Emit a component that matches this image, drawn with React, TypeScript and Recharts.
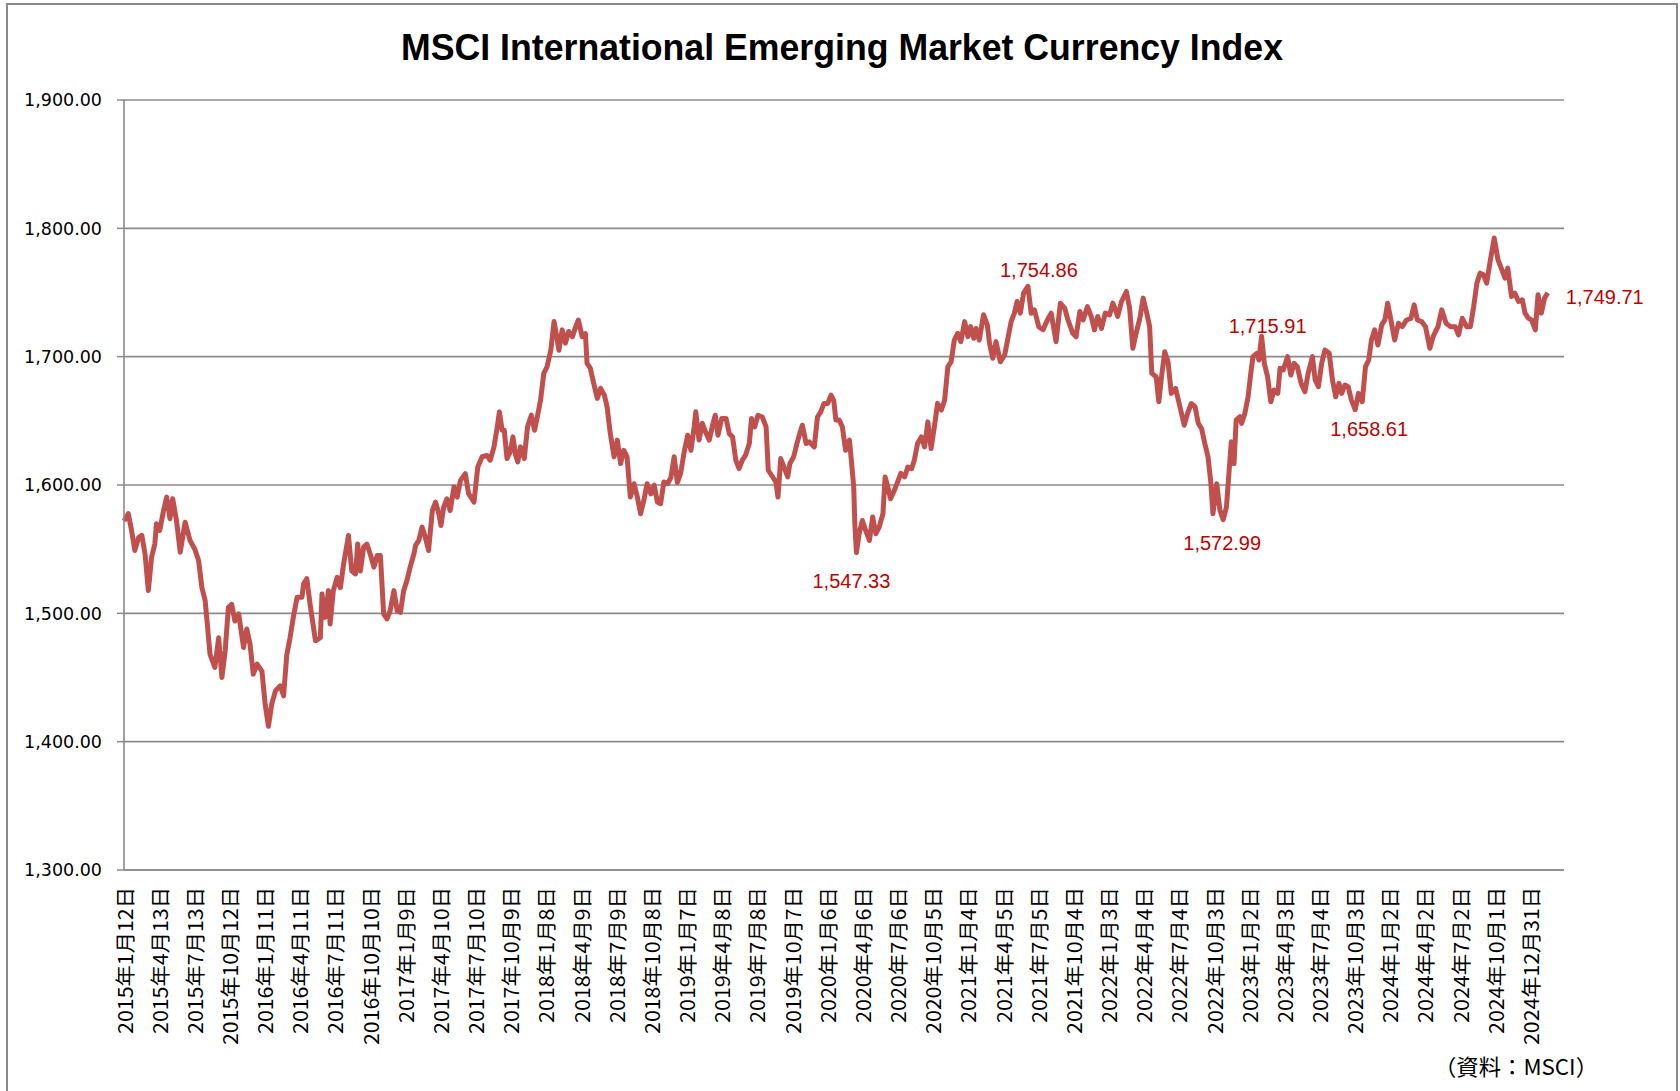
import React from "react";
import { LineChart, Line, XAxis, YAxis, CartesianGrid, ReferenceDot } from "recharts";

// quarter labels on the category axis (every 65 trading days)
const tickLabels = [
  "2015年1月12日", "2015年4月13日", "2015年7月13日", "2015年10月12日",
  "2016年1月11日", "2016年4月11日", "2016年7月11日", "2016年10月10日",
  "2017年1月9日", "2017年4月10日", "2017年7月10日", "2017年10月9日",
  "2018年1月8日", "2018年4月9日", "2018年7月9日", "2018年10月8日",
  "2019年1月7日", "2019年4月8日", "2019年7月8日", "2019年10月7日",
  "2020年1月6日", "2020年4月6日", "2020年7月6日", "2020年10月5日",
  "2021年1月4日", "2021年4月5日", "2021年7月5日", "2021年10月4日",
  "2022年1月3日", "2022年4月4日", "2022年7月4日", "2022年10月3日",
  "2023年1月2日", "2023年4月3日", "2023年7月4日", "2023年10月3日",
  "2024年1月2日", "2024年4月2日", "2024年7月2日", "2024年10月1日",
  "2024年12月31日",
];

// trading-day position of each sampled point (0 = 2015/1/12)
const dayIndex = [
  0, 8, 14, 20, 27, 33, 39, 45, 51, 57, 60, 66, 73, 79, 85, 90, 97, 104, 113, 122,
  131, 138, 144, 150, 154, 159, 168, 175, 181, 187, 193, 199, 205, 212, 221, 227, 233, 239, 246, 255,
  261, 267, 273, 280, 289, 295, 301, 307, 313, 320, 329, 332, 338, 344, 354, 363, 366, 372, 378, 381,
  387, 394, 400, 406, 415, 421, 428, 432, 437, 443, 449, 455, 462, 468, 474, 480, 486, 492, 499, 505,
  511, 517, 523, 529, 536, 539, 545, 551, 557, 563, 570, 576, 582, 586, 591, 597, 603, 610, 616, 622,
  631, 637, 647, 654, 662, 671, 677, 684, 690, 694, 699, 703, 708, 714, 719, 724, 728, 733, 740, 746,
  753, 759, 764, 770, 776, 782, 789, 795, 800, 804, 810, 816, 822, 829, 835, 840, 847, 853, 856, 862,
  869, 875, 881, 888, 893, 899, 906, 912, 918, 924, 930, 936, 943, 949, 955, 961, 967, 974, 980, 986,
  992, 998, 1005, 1011, 1017, 1023, 1029, 1035, 1042, 1048, 1054, 1057, 1063, 1069, 1075, 1082, 1088, 1093, 1098, 1105,
  1113, 1119, 1125, 1131, 1137, 1143, 1149, 1156, 1160, 1166, 1172, 1180, 1187, 1191, 1197, 1205, 1209, 1214, 1220, 1227,
  1231, 1238, 1244, 1250, 1254, 1261, 1267, 1276, 1282, 1288, 1294, 1301, 1307, 1312, 1316, 1322, 1328, 1334, 1341, 1344,
  1349, 1351, 1354, 1359, 1365, 1371, 1378, 1384, 1390, 1396, 1403, 1407, 1412, 1417, 1424, 1430, 1436, 1443, 1449, 1456,
  1461, 1467, 1474, 1480, 1486, 1492, 1498, 1504, 1511, 1517, 1523, 1529, 1535, 1541, 1547, 1554, 1560, 1565, 1571, 1575,
  1581, 1589, 1596, 1600, 1606, 1612, 1620, 1628, 1634, 1640, 1646, 1651, 1657, 1663, 1671, 1677, 1683, 1691, 1699, 1707,
  1714, 1723, 1731, 1739, 1745, 1754, 1760, 1767, 1773, 1781, 1788, 1794, 1800, 1807, 1814, 1822, 1828, 1834, 1837, 1844,
  1853, 1859, 1865, 1871, 1878, 1884, 1890, 1896, 1900, 1908, 1913, 1918, 1924, 1930, 1936, 1944, 1952, 1960, 1966, 1973,
  1980, 1986, 1992, 1998, 2004, 2009, 2013, 2020, 2026, 2032, 2038, 2043, 2047, 2052, 2056, 2063, 2066, 2072, 2078, 2083,
  2087, 2094, 2098, 2103, 2108, 2114, 2120, 2126, 2133, 2137, 2143, 2151, 2157, 2163, 2169, 2176, 2183, 2189, 2197, 2202,
  2208, 2214, 2220, 2228, 2234, 2240, 2246, 2251, 2257, 2263, 2269, 2276, 2282, 2289, 2295, 2301, 2306, 2312, 2318, 2325,
  2331, 2336, 2342, 2349, 2356, 2363, 2371, 2379, 2385, 2391, 2399, 2406, 2414, 2420, 2429, 2436, 2444, 2452, 2461, 2467,
  2474, 2482, 2489, 2495, 2501, 2507, 2513, 2519, 2526, 2533, 2540, 2546, 2553, 2558, 2565, 2571, 2578, 2585, 2590, 2596,
  2602, 2609, 2614, 2620, 2626, 2632,
];

const indexValue = [
  1572, 1577.6, 1564.6, 1549, 1559, 1560.7, 1546, 1517.7, 1543.7, 1554, 1569.8, 1564.6, 1580, 1590.6, 1573.7, 1589.3, 1572.4, 1547.7, 1571, 1556.8,
  1550, 1541, 1520, 1510, 1491.7, 1468, 1457.8, 1481, 1450, 1470.8, 1504.7, 1507, 1494, 1499.5, 1473.4, 1487.8, 1476, 1452.6, 1460.4, 1455,
  1429, 1412, 1429, 1439.6, 1443.5, 1435.7, 1468, 1481, 1496.9, 1512.5, 1512.5, 1523, 1527, 1507, 1478.6, 1481, 1515, 1497, 1517.7, 1491.7,
  1517.7, 1528, 1520, 1538.5, 1560.7, 1533, 1530.7, 1554, 1533, 1551.6, 1554, 1546.4, 1536, 1545, 1545, 1499.5, 1495.6, 1502, 1517.7, 1502,
  1500.8, 1517.7, 1525.5, 1536, 1546.4, 1552.9, 1556.8, 1567.2, 1559.4, 1549, 1580, 1586.7, 1577.6, 1568.5, 1582.8, 1589.3, 1580, 1598.4, 1590.6, 1603.6,
  1608.8, 1593.2, 1586.7, 1614, 1622, 1623, 1619.3, 1629.7, 1645.3, 1657, 1642.7, 1642.7, 1620.6, 1625.8, 1637.5, 1623.2, 1618, 1629.7, 1620.6, 1645.3,
  1654.4, 1642.7, 1653, 1666, 1687, 1692, 1705, 1727.4, 1715.6, 1705, 1720.9, 1710.5, 1719.6, 1715.6, 1723.4, 1728.6, 1715.6, 1718, 1694.8, 1691,
  1678, 1667.5, 1675.4, 1670, 1661, 1640, 1621.9, 1635, 1616.7, 1627, 1621.9, 1590.6, 1601, 1590.6, 1577.6, 1588, 1601, 1593, 1600, 1586.7,
  1585.4, 1602.3, 1601, 1606, 1622, 1602, 1609, 1624.5, 1638.8, 1627, 1645.3, 1657, 1635, 1648, 1641.4, 1635, 1646.6, 1654.4, 1638.8, 1651.8,
  1651.8, 1640, 1637.5, 1619.3, 1612.8, 1619.3, 1623.2, 1632.3, 1651.8, 1645.3, 1654.4, 1653, 1645.3, 1611.5, 1607.6, 1602.4, 1590.6, 1620.6, 1614, 1606.3,
  1616.7, 1622, 1632.3, 1641.4, 1646.6, 1632.3, 1633.6, 1629.7, 1653, 1657, 1663.6, 1663.6, 1670, 1666, 1650.6, 1650.6, 1645.3, 1627, 1635, 1622,
  1598.4, 1569.8, 1547.33, 1562, 1572.4, 1564.6, 1556.8, 1575, 1562, 1567.2, 1577.6, 1606.3, 1598.4, 1589.3, 1595.8, 1602.3, 1609, 1606.3, 1614, 1612.8,
  1619.3, 1632.3, 1637.5, 1629.7, 1649.2, 1628.4, 1645.3, 1663.6, 1658.4, 1666, 1692.2, 1696, 1713, 1718.2, 1711.7, 1727.3, 1715.6, 1723.4, 1714.3, 1722,
  1713, 1732.6, 1724.7, 1710.4, 1698.7, 1711.7, 1696, 1701.3, 1714.3, 1727.3, 1733.9, 1743, 1733.9, 1749.5, 1754.86, 1733.9, 1736.5, 1723.4, 1720.9, 1728.6,
  1733.9, 1711.7, 1741.7, 1737.8, 1728.6, 1718.2, 1715.6, 1735.2, 1728.6, 1739, 1731.3, 1720.9, 1731.3, 1722, 1733.9, 1732.6, 1741.7, 1735.2, 1731.3, 1743,
  1750.8, 1737.8, 1706.5, 1718.2, 1730, 1745.6, 1735.2, 1723.4, 1687, 1684.4, 1664.9, 1684.4, 1703.9, 1696, 1671.4, 1675.3, 1661, 1646.6, 1655.7, 1663.5,
  1661, 1648, 1644, 1632.3, 1621.9, 1602.4, 1577.6, 1601, 1580.2, 1572.99, 1582.8, 1611.5, 1633.6, 1616.7, 1650.6, 1653.2, 1648, 1655.7, 1668.8, 1687,
  1700, 1702.6, 1697.4, 1715.91, 1694.8, 1684.4, 1664.9, 1674, 1671.4, 1690.9, 1689.6, 1700, 1685.7, 1694.8, 1692.2, 1679.2, 1672.7, 1687, 1700, 1681.8,
  1676.6, 1694.8, 1705.2, 1702.6, 1681.8, 1668.8, 1679.2, 1671.4, 1677.9, 1676.6, 1666.2, 1658.61, 1671.4, 1664.9, 1692.2, 1697.4, 1713, 1720.9, 1709.1, 1724.7,
  1728.6, 1741.7, 1728.6, 1713, 1726, 1723.4, 1728.6, 1729.9, 1740.4, 1728.6, 1727.3, 1723.4, 1706.5, 1715.6, 1723.4, 1736.5, 1726, 1723.4, 1723.4, 1717,
  1729.9, 1723.4, 1723.4, 1739, 1757.3, 1765.1, 1763.8, 1757.3, 1775.5, 1792.4, 1775.5, 1769, 1761.2, 1769, 1746.9, 1749.5, 1743, 1744.3, 1733.9, 1730,
  1728.6, 1720.8, 1748.2, 1733.9, 1745.6, 1749.71,
];

// labelled points
const calloutIdx = [1671, 1354, 2032, 2103, 2276, 2632];
const calloutValue = [1754.86, 1547.33, 1572.99, 1715.91, 1658.61, 1749.71];

const yTicks = [1300, 1400, 1500, 1600, 1700, 1800, 1900];

const LABEL_STEP = 65;
const MINOR_STEP = 22;
const LAST_DAY = 2662;

const data = dayIndex.map((d, i) => ({ day: d, value: indexValue[i] }));
const labelTicks = tickLabels.map((_, i) => i * LABEL_STEP);
const minorTicks = Array.from({ length: LAST_DAY / MINOR_STEP + 1 }, (_, i) => i * MINOR_STEP);

const AXIS = "#8a8a8a";
const RED_TEXT = "#c00000";
// label centre offset from its point, px
const calloutOffset = [[11, -16], [-5, 28], [-1, 23], [6, -10], [14, 19], [57, 4]];

const fmt = (v: number) => v.toLocaleString("en-US", { minimumFractionDigits: 2, maximumFractionDigits: 2 });

function DateTick({ x, y, payload }: any) {
  const label = tickLabels[Math.round(payload.value / LABEL_STEP)] ?? "";
  const digits = label.replace(/[^0-9]/g, "").length;
  const len = digits * 11 + (label.length - digits) * 23.3;
  const top = y + 17;
  return (
    <text
      x={x}
      y={top}
      transform={`rotate(-90 ${x} ${top})`}
      textAnchor="end"
      dominantBaseline="central"
      fontFamily="'Noto Sans CJK JP', sans-serif"
      fontSize={20}
      fill="#000"
      textLength={len}
      lengthAdjust="spacingAndGlyphs"
    >
      {label}
    </text>
  );
}

function callout(i: number) {
  return (props: any) => {
    const vb = props.viewBox || {};
    const cx = (vb.x ?? 0) + (vb.width ?? 0) / 2 + calloutOffset[i][0];
    const cy = (vb.y ?? 0) + (vb.height ?? 0) / 2 + calloutOffset[i][1];
    return (
      <text x={cx} y={cy} textAnchor="middle" dominantBaseline="central"
        fontFamily="'Liberation Sans', Arial, sans-serif" fontSize={20} fill={RED_TEXT}>
        {fmt(calloutValue[i])}
      </text>
    );
  };
}

export default function App() {
  return (
    <div style={{ position: "absolute", left: 0, top: 0, width: 1680, height: 1091, overflow: "hidden", background: "#fff" }}>
      <div style={{ position: "absolute", left: 6, top: 3, width: 1672, height: 1200, border: `2px solid ${AXIS}`, boxSizing: "border-box" }} />
      <svg width={1680} height={90} style={{ position: "absolute", left: 0, top: 0 }}>
        <text x={842} y={60} textAnchor="middle" fontFamily="'Liberation Sans Narrow', 'Liberation Sans', Arial, sans-serif"
          fontWeight="bold" fontSize={37} fill="#000" textLength={882} lengthAdjust="spacingAndGlyphs">
          MSCI International Emerging Market Currency Index
        </text>
      </svg>
      <div style={{ position: "absolute", left: 0, top: 0 }}>
        <LineChart width={1680} height={1091} data={data} margin={{ top: 100, right: 116, left: 14, bottom: 41 }}>
          <CartesianGrid xAxisId="date" vertical={false} stroke={AXIS} strokeWidth={1.6} />
          <XAxis
            xAxisId="minor"
            type="number"
            dataKey="day"
            domain={[0, LAST_DAY]}
            ticks={minorTicks}
            interval={0}
            height={0}
            tick={false}
            tickSize={7}
            tickLine={{ stroke: AXIS, strokeWidth: 1.5 }}
            axisLine={false}
          />
          <XAxis
            xAxisId="date"
            type="number"
            dataKey="day"
            domain={[0, LAST_DAY]}
            ticks={labelTicks}
            interval={0}
            height={180}
            tickSize={0}
            tickMargin={0}
            tickLine={false}
            axisLine={{ stroke: AXIS, strokeWidth: 1.6 }}
            tick={<DateTick />}
          />
          <YAxis
            type="number"
            domain={[1300, 1900]}
            ticks={yTicks}
            interval={0}
            width={110}
            tickSize={7}
            tickMargin={15}
            tickFormatter={fmt}
            tickLine={{ stroke: AXIS, strokeWidth: 1.5 }}
            axisLine={{ stroke: AXIS, strokeWidth: 1.6 }}
            tick={{ fontFamily: "'DejaVu Sans', sans-serif", fontSize: 17.5, fill: "#000" }}
          />
          <Line
            xAxisId="date"
            type="linear"
            dataKey="value"
            stroke="#c0504d"
            strokeWidth={5}
            strokeLinejoin="round"
            dot={false}
            isAnimationActive={false}
          />
          {calloutIdx.map((d, i) => (
            <ReferenceDot key={d} xAxisId="date" x={d} y={calloutValue[i]} r={0} fill="none" stroke="none"
              ifOverflow="visible" label={callout(i)} />
          ))}
        </LineChart>
      </div>
      <svg width={1680} height={1091} style={{ position: "absolute", left: 0, top: 0, pointerEvents: "none" }}>
        <text x={1598} y={1075} textAnchor="end" fontFamily="'Noto Sans CJK JP', sans-serif" fontSize={22} fill="#000"
          textLength={164} lengthAdjust="spacingAndGlyphs">
          （資料：MSCI）
        </text>
      </svg>
    </div>
  );
}
